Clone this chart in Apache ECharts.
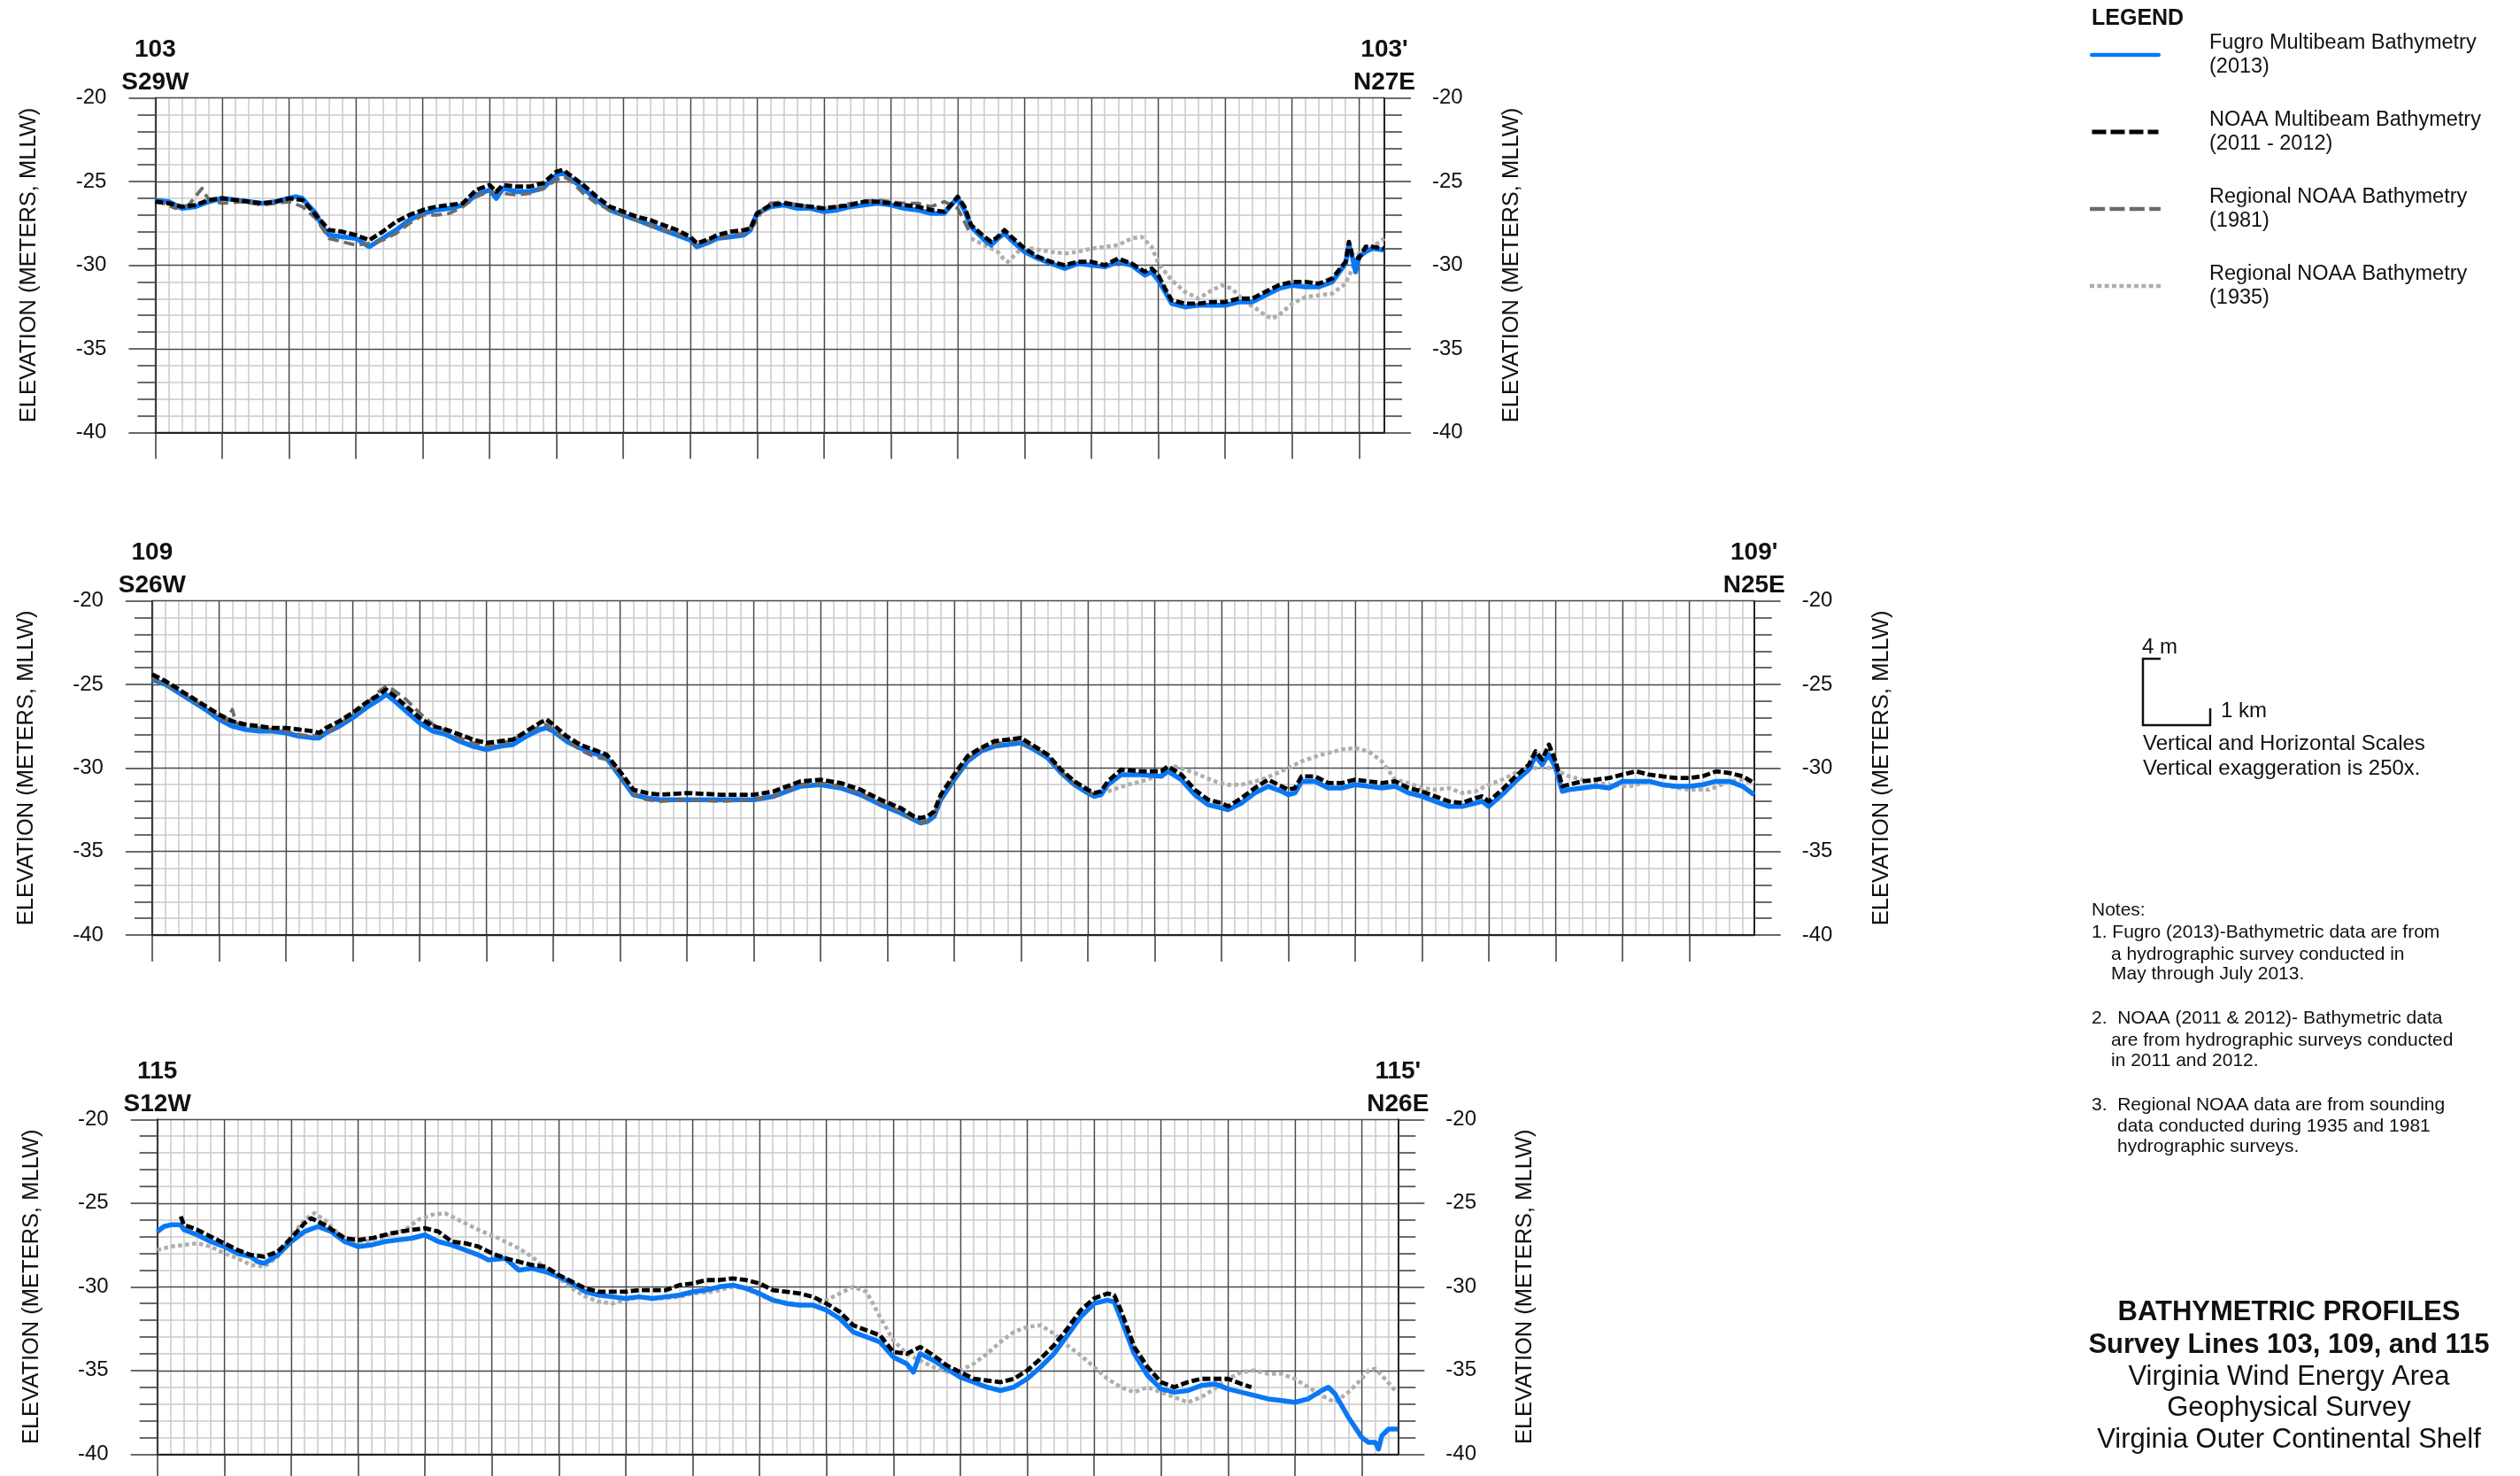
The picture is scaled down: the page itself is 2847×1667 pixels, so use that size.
<!DOCTYPE html>
<html><head><meta charset="utf-8">
<script src="https://cdn.jsdelivr.net/npm/echarts@6/dist/echarts.min.js"></script>
<style>html,body{margin:0;padding:0;background:#fff}#c{width:2847px;height:1667px}</style>
</head><body><div id="c"></div><script>
// ---------------- DATA ----------------
const seriesNames = [
  'Fugro Multibeam Bathymetry (2013)',
  'NOAA Multibeam Bathymetry (2011 - 2012)',
  'Regional NOAA Bathymetry (1981)',
  'Regional NOAA Bathymetry (1935)'
];
const profileIds = ['103', '109', '115'];
const startLabels = ['S29W', 'S26W', 'S12W'];
const endLabels = ['N27E', 'N25E', 'N26E'];
const profileLengthKm = [18.38, 23.97, 18.54];
const elevMin = -40, elevMax = -20, elevMajor = 5;

// Survey line 103 : [distance km, elevation m]
const fugro103 = [[0,-26.1],[0.2,-26.2],[0.4,-26.6],[0.6,-26.5],[0.8,-26.2],[1.0,-26.0],[1.2,-26.1],[1.4,-26.2],[1.6,-26.3],[1.8,-26.2],[2.0,-26.0],[2.1,-25.9],[2.2,-26.0],[2.4,-26.9],[2.5,-27.7],[2.6,-28.2],[2.8,-28.3],[3.0,-28.4],[3.2,-28.9],[3.4,-28.4],[3.6,-27.9],[3.8,-27.3],[4.0,-26.9],[4.2,-26.7],[4.4,-26.6],[4.6,-26.4],[4.8,-25.8],[5.0,-25.5],[5.1,-26.0],[5.2,-25.4],[5.4,-25.6],[5.6,-25.6],[5.8,-25.4],[6.0,-24.6],[6.1,-24.5],[6.2,-24.8],[6.4,-25.4],[6.6,-26.1],[6.8,-26.7],[7.0,-27.0],[7.2,-27.3],[7.4,-27.6],[7.6,-27.9],[7.8,-28.2],[8.0,-28.5],[8.1,-28.9],[8.3,-28.6],[8.4,-28.4],[8.6,-28.3],[8.8,-28.2],[8.9,-27.9],[9.0,-26.9],[9.2,-26.5],[9.4,-26.4],[9.6,-26.6],[9.8,-26.6],[10.0,-26.8],[10.2,-26.7],[10.4,-26.5],[10.6,-26.4],[10.8,-26.3],[11.0,-26.4],[11.2,-26.6],[11.4,-26.7],[11.6,-26.9],[11.8,-26.9],[11.9,-26.4],[12.0,-26.0],[12.1,-26.7],[12.2,-27.7],[12.4,-28.5],[12.5,-28.8],[12.6,-28.4],[12.7,-28.1],[12.8,-28.5],[13.0,-29.2],[13.2,-29.6],[13.4,-29.9],[13.6,-30.2],[13.8,-29.9],[14.0,-30.0],[14.2,-30.1],[14.4,-29.8],[14.6,-30.0],[14.8,-30.6],[14.9,-30.4],[15.0,-30.9],[15.1,-31.6],[15.2,-32.3],[15.4,-32.5],[15.6,-32.4],[15.8,-32.4],[16.0,-32.4],[16.2,-32.2],[16.4,-32.2],[16.6,-31.8],[16.8,-31.4],[17.0,-31.2],[17.2,-31.3],[17.4,-31.3],[17.6,-31.0],[17.8,-29.9],[17.85,-28.8],[17.9,-29.5],[17.95,-30.4],[18.0,-29.5],[18.1,-29.2],[18.2,-29.0],[18.38,-29.1]];
const noaa103 = [[0,-26.2],[0.2,-26.3],[0.4,-26.5],[0.6,-26.4],[0.8,-26.1],[1.0,-26.0],[1.2,-26.1],[1.4,-26.2],[1.6,-26.3],[1.8,-26.2],[2.0,-26.0],[2.2,-26.1],[2.4,-27.0],[2.6,-27.9],[2.8,-28.0],[3.0,-28.2],[3.2,-28.5],[3.4,-28.0],[3.6,-27.4],[3.8,-27.0],[4.0,-26.7],[4.2,-26.5],[4.4,-26.4],[4.6,-26.3],[4.8,-25.5],[5.0,-25.2],[5.1,-25.6],[5.2,-25.2],[5.4,-25.3],[5.6,-25.3],[5.8,-25.1],[6.0,-24.4],[6.1,-24.3],[6.2,-24.6],[6.4,-25.2],[6.6,-25.9],[6.8,-26.5],[7.0,-26.8],[7.2,-27.1],[7.4,-27.3],[7.6,-27.6],[7.8,-27.9],[8.0,-28.3],[8.1,-28.7],[8.3,-28.4],[8.4,-28.2],[8.6,-28.0],[8.8,-27.9],[8.9,-27.8],[9.0,-26.9],[9.2,-26.4],[9.4,-26.3],[9.6,-26.4],[9.8,-26.5],[10.0,-26.6],[10.2,-26.5],[10.4,-26.4],[10.6,-26.2],[10.8,-26.2],[11.0,-26.3],[11.2,-26.4],[11.4,-26.5],[11.6,-26.7],[11.8,-26.8],[11.9,-26.4],[12.0,-25.9],[12.1,-26.5],[12.2,-27.6],[12.4,-28.3],[12.5,-28.6],[12.6,-28.3],[12.7,-27.9],[12.8,-28.3],[13.0,-29.0],[13.2,-29.5],[13.4,-29.8],[13.6,-30.0],[13.8,-29.8],[14.0,-29.8],[14.2,-30.0],[14.4,-29.6],[14.6,-29.9],[14.8,-30.4],[14.9,-30.2],[15.0,-30.6],[15.1,-31.4],[15.2,-32.1],[15.4,-32.3],[15.6,-32.3],[15.8,-32.2],[16.0,-32.2],[16.2,-32.0],[16.4,-32.0],[16.6,-31.6],[16.8,-31.2],[17.0,-31.0],[17.2,-31.0],[17.4,-31.1],[17.6,-30.8],[17.8,-29.8],[17.85,-28.6],[17.9,-29.4],[18.0,-29.6],[18.1,-28.9],[18.2,-28.9],[18.38,-29.0]];
const reg1981_103 = [[0,-26.1],[0.3,-26.6],[0.5,-26.4],[0.7,-25.4],[0.8,-26.1],[1.0,-26.3],[1.3,-26.2],[1.6,-26.4],[2.0,-26.2],[2.2,-26.5],[2.4,-27.2],[2.6,-28.4],[2.8,-28.6],[3.0,-28.8],[3.2,-28.7],[3.4,-28.5],[3.6,-28.1],[3.8,-27.5],[4.0,-27.0],[4.2,-27.0],[4.4,-26.9],[4.6,-26.5],[4.8,-25.9],[5.0,-25.6],[5.2,-25.7],[5.4,-25.8],[5.6,-25.7],[5.8,-25.4],[6.0,-24.9],[6.1,-24.7],[6.2,-24.9],[6.4,-25.7],[6.6,-26.3],[6.8,-26.7],[7.0,-27.0],[7.2,-27.3],[7.4,-27.6],[7.6,-27.9],[7.8,-28.1],[8.0,-28.4],[8.1,-28.8],[8.3,-28.5],[8.5,-28.3],[8.8,-28.1],[8.95,-27.6],[9.05,-26.9],[9.2,-26.3],[9.4,-26.2],[9.6,-26.4],[9.8,-26.5],[10.0,-26.6],[10.2,-26.5],[10.4,-26.3],[10.6,-26.2],[10.8,-26.1],[11.0,-26.2],[11.2,-26.3],[11.4,-26.3],[11.6,-26.5],[11.8,-26.2],[12.0,-26.6],[12.1,-27.4],[12.2,-28.2]];
const reg1935_103 = [[12.2,-28.4],[12.4,-28.8],[12.6,-29.2],[12.7,-29.7],[12.75,-29.8],[12.9,-29.2],[13.1,-29.0],[13.4,-29.2],[13.6,-29.3],[13.8,-29.2],[14.0,-29.0],[14.2,-28.9],[14.4,-28.8],[14.6,-28.4],[14.75,-28.3],[14.9,-28.9],[15.0,-29.9],[15.2,-30.9],[15.4,-31.6],[15.6,-32.0],[15.8,-31.5],[15.95,-31.2],[16.1,-31.4],[16.3,-32.2],[16.5,-32.7],[16.6,-33.0],[16.7,-33.2],[16.8,-33.0],[17.0,-32.3],[17.2,-31.9],[17.4,-31.8],[17.6,-31.7],[17.8,-31.1],[18.0,-29.3],[18.2,-28.9],[18.38,-28.4]];

// Survey line 109
const fugro109 = [[0,-24.7],[0.2,-25.0],[0.4,-25.5],[0.6,-26.0],[0.8,-26.5],[1.0,-27.1],[1.2,-27.5],[1.4,-27.7],[1.6,-27.8],[1.8,-27.8],[2.0,-27.9],[2.2,-28.1],[2.4,-28.2],[2.5,-28.2],[2.6,-27.9],[2.8,-27.5],[3.0,-27.0],[3.2,-26.4],[3.4,-25.9],[3.5,-25.6],[3.6,-25.9],[3.8,-26.6],[4.0,-27.3],[4.2,-27.8],[4.4,-28.0],[4.6,-28.4],[4.8,-28.7],[5.0,-28.9],[5.2,-28.7],[5.4,-28.6],[5.6,-28.1],[5.8,-27.7],[5.9,-27.6],[6.0,-27.8],[6.2,-28.4],[6.4,-28.8],[6.6,-29.1],[6.8,-29.4],[7.0,-30.5],[7.2,-31.6],[7.4,-31.8],[7.6,-31.9],[8.0,-31.9],[8.5,-31.9],[9.0,-31.9],[9.3,-31.7],[9.5,-31.4],[9.7,-31.1],[10.0,-31.0],[10.3,-31.2],[10.6,-31.6],[10.9,-32.2],[11.2,-32.7],[11.4,-33.1],[11.5,-33.3],[11.6,-33.2],[11.7,-32.9],[11.8,-31.9],[12.0,-30.7],[12.2,-29.6],[12.4,-29.0],[12.6,-28.7],[12.8,-28.6],[13.0,-28.5],[13.2,-28.9],[13.4,-29.4],[13.6,-30.3],[13.8,-31.0],[14.0,-31.5],[14.1,-31.7],[14.2,-31.6],[14.3,-31.0],[14.5,-30.4],[14.8,-30.4],[15.1,-30.5],[15.2,-30.2],[15.4,-30.7],[15.6,-31.6],[15.8,-32.2],[16.0,-32.4],[16.1,-32.5],[16.3,-32.1],[16.5,-31.5],[16.7,-31.1],[16.9,-31.4],[17.0,-31.6],[17.1,-31.5],[17.2,-30.8],[17.4,-30.8],[17.6,-31.2],[17.8,-31.2],[18.0,-31.0],[18.2,-31.1],[18.4,-31.2],[18.6,-31.1],[18.8,-31.5],[19.0,-31.7],[19.2,-32.0],[19.4,-32.3],[19.6,-32.3],[19.8,-32.1],[19.9,-32.0],[20.0,-32.3],[20.2,-31.6],[20.4,-30.8],[20.6,-30.1],[20.7,-29.3],[20.8,-29.8],[20.9,-29.2],[21.0,-30.0],[21.1,-31.4],[21.2,-31.3],[21.4,-31.2],[21.6,-31.1],[21.8,-31.2],[22.0,-30.8],[22.2,-30.8],[22.4,-30.8],[22.6,-31.0],[22.8,-31.1],[23.0,-31.1],[23.2,-31.0],[23.4,-30.8],[23.6,-30.8],[23.8,-31.1],[23.97,-31.6]];
const noaa109 = [[0,-24.4],[0.2,-24.8],[0.4,-25.3],[0.6,-25.8],[0.8,-26.3],[1.0,-26.8],[1.2,-27.2],[1.4,-27.4],[1.6,-27.5],[1.8,-27.6],[2.0,-27.6],[2.2,-27.7],[2.4,-27.8],[2.5,-27.9],[2.6,-27.6],[2.8,-27.2],[3.0,-26.7],[3.2,-26.1],[3.4,-25.6],[3.5,-25.3],[3.6,-25.6],[3.8,-26.3],[4.0,-27.0],[4.2,-27.5],[4.4,-27.7],[4.6,-28.0],[4.8,-28.3],[5.0,-28.5],[5.2,-28.4],[5.4,-28.3],[5.6,-27.8],[5.8,-27.3],[5.9,-27.1],[6.0,-27.4],[6.2,-28.1],[6.4,-28.6],[6.6,-28.9],[6.8,-29.2],[7.0,-30.2],[7.2,-31.3],[7.4,-31.5],[7.6,-31.6],[8.0,-31.5],[8.5,-31.6],[9.0,-31.6],[9.3,-31.4],[9.5,-31.1],[9.7,-30.8],[10.0,-30.7],[10.3,-30.9],[10.6,-31.3],[10.9,-31.9],[11.2,-32.4],[11.4,-32.9],[11.5,-33.0],[11.6,-32.9],[11.7,-32.6],[11.8,-31.6],[12.0,-30.4],[12.2,-29.3],[12.4,-28.8],[12.6,-28.4],[12.8,-28.3],[13.0,-28.2],[13.2,-28.7],[13.4,-29.2],[13.6,-30.1],[13.8,-30.8],[14.0,-31.3],[14.1,-31.5],[14.2,-31.4],[14.3,-30.8],[14.5,-30.1],[14.8,-30.2],[15.1,-30.2],[15.2,-29.9],[15.4,-30.4],[15.6,-31.3],[15.8,-31.9],[16.0,-32.1],[16.1,-32.3],[16.3,-31.8],[16.5,-31.2],[16.7,-30.7],[16.9,-31.1],[17.0,-31.3],[17.1,-31.2],[17.2,-30.5],[17.4,-30.5],[17.6,-30.9],[17.8,-30.9],[18.0,-30.7],[18.2,-30.8],[18.4,-30.9],[18.6,-30.8],[18.8,-31.2],[19.0,-31.4],[19.2,-31.7],[19.4,-32.0],[19.6,-32.1],[19.8,-31.8],[19.9,-31.7],[20.0,-32.0],[20.2,-31.3],[20.4,-30.5],[20.6,-29.8],[20.7,-29.0],[20.8,-29.5],[20.9,-28.6],[21.0,-29.6],[21.1,-31.1],[21.2,-31.0],[21.4,-30.8],[21.6,-30.7],[21.8,-30.6],[22.0,-30.4],[22.2,-30.2],[22.4,-30.4],[22.6,-30.5],[22.8,-30.6],[23.0,-30.6],[23.2,-30.5],[23.4,-30.2],[23.6,-30.3],[23.8,-30.5],[23.97,-30.9]];
const reg1981_109 = [[0,-24.6],[0.2,-25.0],[0.4,-25.4],[0.6,-25.9],[0.8,-26.4],[1.0,-26.9],[1.1,-27.2],[1.2,-26.5],[1.25,-27.3],[1.4,-27.5],[1.6,-27.6],[1.8,-27.7],[2.0,-27.8],[2.2,-28.0],[2.4,-28.1],[2.6,-27.9],[2.8,-27.4],[3.0,-26.8],[3.2,-26.2],[3.4,-25.4],[3.5,-25.1],[3.6,-25.3],[3.8,-25.9],[4.0,-26.7],[4.2,-27.4],[4.4,-27.8],[4.6,-28.2],[4.8,-28.5],[5.0,-28.7],[5.2,-28.6],[5.4,-28.3],[5.6,-27.9],[5.8,-27.5],[5.9,-27.4],[6.0,-27.7],[6.2,-28.3],[6.4,-28.9],[6.6,-29.3],[6.8,-29.5],[7.0,-30.4],[7.2,-31.5],[7.4,-31.9],[7.6,-32.0],[8.0,-31.9],[8.5,-32.0],[9.0,-31.9],[9.3,-31.7],[9.5,-31.3],[9.7,-31.0],[10.0,-30.9],[10.3,-31.1],[10.6,-31.5],[10.9,-32.1],[11.2,-32.6],[11.4,-33.1],[11.5,-33.3],[11.6,-33.2],[11.7,-32.8],[11.8,-31.8],[12.0,-30.6],[12.2,-29.5],[12.4,-28.9],[12.6,-28.6],[12.8,-28.4],[13.0,-28.4],[13.2,-28.8],[13.4,-29.3],[13.6,-30.2],[13.8,-30.9],[14.0,-31.4],[14.1,-31.6]];
const reg1935_109 = [[14.3,-31.4],[14.6,-31.0],[14.9,-30.7],[15.2,-30.1],[15.3,-29.9],[15.6,-30.3],[15.9,-30.8],[16.1,-31.0],[16.3,-31.0],[16.6,-30.7],[16.9,-30.2],[17.2,-29.6],[17.5,-29.2],[17.8,-28.9],[18.0,-28.8],[18.2,-29.0],[18.4,-29.6],[18.6,-30.7],[18.8,-30.9],[19.0,-31.2],[19.2,-31.3],[19.4,-31.2],[19.6,-31.5],[19.8,-31.4],[20.0,-31.0],[20.2,-30.7],[20.4,-30.3],[20.6,-30.1],[20.8,-29.9],[21.0,-30.1],[21.2,-30.5],[21.5,-30.8],[21.8,-31.0],[22.1,-31.1],[22.4,-30.8],[22.7,-31.1],[23.0,-31.3],[23.3,-31.3],[23.6,-30.8],[23.8,-30.7],[23.97,-30.9]];

// Survey line 115
const fugro115 = [[0,-26.7],[0.1,-26.4],[0.2,-26.3],[0.35,-26.3],[0.4,-26.6],[0.6,-26.9],[0.8,-27.3],[1.0,-27.6],[1.2,-28.0],[1.4,-28.2],[1.5,-28.5],[1.6,-28.6],[1.8,-28.1],[2.0,-27.3],[2.2,-26.7],[2.4,-26.4],[2.6,-26.7],[2.8,-27.3],[3.0,-27.6],[3.2,-27.5],[3.4,-27.3],[3.6,-27.2],[3.8,-27.1],[4.0,-26.9],[4.2,-27.3],[4.4,-27.5],[4.6,-27.8],[4.8,-28.1],[4.95,-28.4],[5.2,-28.3],[5.4,-29.0],[5.6,-28.9],[5.8,-29.1],[6.0,-29.4],[6.2,-29.8],[6.4,-30.3],[6.6,-30.5],[6.8,-30.6],[7.0,-30.7],[7.2,-30.6],[7.4,-30.7],[7.6,-30.6],[7.8,-30.5],[8.0,-30.3],[8.2,-30.2],[8.4,-30.0],[8.6,-29.9],[8.8,-30.1],[9.0,-30.4],[9.2,-30.8],[9.4,-31.0],[9.6,-31.1],[9.8,-31.1],[10.0,-31.4],[10.2,-31.9],[10.4,-32.7],[10.6,-33.0],[10.8,-33.3],[11.0,-34.2],[11.2,-34.6],[11.3,-35.1],[11.4,-34.0],[11.6,-34.4],[11.8,-34.9],[12.0,-35.4],[12.2,-35.7],[12.4,-36.0],[12.6,-36.2],[12.8,-36.0],[13.0,-35.5],[13.2,-34.8],[13.4,-34.0],[13.6,-32.9],[13.8,-31.8],[14.0,-31.0],[14.2,-30.8],[14.3,-30.9],[14.4,-31.9],[14.6,-34.0],[14.8,-35.3],[15.0,-36.1],[15.2,-36.3],[15.4,-36.2],[15.6,-35.9],[15.8,-35.8],[16.0,-36.1],[16.2,-36.3],[16.4,-36.5],[16.6,-36.7],[16.8,-36.8],[17.0,-36.9],[17.2,-36.7],[17.4,-36.2],[17.5,-36.0],[17.6,-36.4],[17.8,-37.8],[18.0,-39.0],[18.1,-39.3],[18.2,-39.3],[18.25,-39.7],[18.3,-38.9],[18.4,-38.5],[18.54,-38.5]];
const noaa115 = [[0.35,-25.8],[0.4,-26.3],[0.6,-26.6],[0.8,-27.0],[1.0,-27.4],[1.2,-27.8],[1.4,-28.1],[1.6,-28.2],[1.8,-27.9],[2.0,-27.1],[2.2,-26.2],[2.3,-25.9],[2.5,-26.3],[2.8,-27.1],[3.0,-27.2],[3.2,-27.1],[3.5,-26.8],[3.8,-26.6],[4.0,-26.5],[4.2,-26.7],[4.4,-27.3],[4.6,-27.4],[4.8,-27.6],[5.0,-28.0],[5.2,-28.3],[5.4,-28.5],[5.6,-28.7],[5.8,-28.8],[6.0,-29.3],[6.2,-29.7],[6.4,-30.1],[6.6,-30.3],[6.8,-30.3],[7.0,-30.3],[7.2,-30.2],[7.4,-30.2],[7.6,-30.2],[7.8,-29.9],[8.0,-29.8],[8.2,-29.6],[8.4,-29.6],[8.6,-29.5],[8.8,-29.6],[9.0,-29.8],[9.2,-30.2],[9.4,-30.3],[9.6,-30.4],[9.8,-30.6],[10.0,-31.0],[10.2,-31.5],[10.4,-32.3],[10.6,-32.6],[10.8,-32.9],[11.0,-33.9],[11.2,-34.0],[11.4,-33.6],[11.6,-34.1],[11.8,-34.7],[12.0,-35.1],[12.2,-35.5],[12.4,-35.6],[12.6,-35.7],[12.8,-35.5],[13.0,-35.0],[13.2,-34.3],[13.4,-33.5],[13.6,-32.5],[13.8,-31.4],[14.0,-30.7],[14.2,-30.4],[14.3,-30.5],[14.4,-31.4],[14.5,-32.5],[14.6,-33.6],[14.8,-34.8],[15.0,-35.7],[15.2,-36.0],[15.4,-35.7],[15.6,-35.5],[15.8,-35.5],[16.0,-35.5],[16.2,-35.8],[16.35,-36.0]];
const reg1935_115 = [[0,-27.8],[0.2,-27.6],[0.4,-27.5],[0.6,-27.4],[0.8,-27.6],[1.0,-28.0],[1.2,-28.3],[1.4,-28.7],[1.6,-28.8],[1.8,-28.2],[2.0,-27.0],[2.2,-26.0],[2.35,-25.6],[2.5,-26.0],[2.7,-26.8],[2.9,-27.3],[3.1,-27.3],[3.4,-27.0],[3.7,-26.6],[3.9,-26.0],[4.1,-25.7],[4.3,-25.6],[4.5,-26.0],[4.8,-26.6],[5.1,-27.1],[5.4,-27.7],[5.6,-28.2],[5.8,-28.9],[6.0,-29.5],[6.2,-30.1],[6.4,-30.6],[6.6,-30.9],[6.8,-31.0],[7.0,-30.8],[7.2,-30.6],[7.5,-30.7],[7.8,-30.6],[8.0,-30.4],[8.3,-30.3],[8.6,-30.0],[8.8,-30.1],[9.0,-30.5],[9.2,-30.8],[9.5,-31.0],[9.8,-31.1],[10.0,-30.8],[10.2,-30.4],[10.4,-30.0],[10.6,-30.3],[10.8,-31.8],[11.0,-33.2],[11.2,-34.0],[11.4,-34.4],[11.6,-34.8],[11.8,-35.1],[12.0,-35.0],[12.2,-34.6],[12.4,-34.0],[12.6,-33.3],[12.8,-32.7],[13.0,-32.4],[13.2,-32.3],[13.4,-32.8],[13.6,-33.5],[13.8,-34.1],[14.0,-34.8],[14.2,-35.5],[14.4,-36.0],[14.6,-36.3],[14.8,-36.0],[15.0,-36.3],[15.2,-36.6],[15.4,-36.9],[15.6,-36.6],[15.8,-36.1],[16.0,-35.5],[16.2,-35.1],[16.4,-35.0],[16.6,-35.2],[16.8,-35.2],[17.0,-35.5],[17.2,-36.0],[17.4,-36.5],[17.6,-36.9],[17.8,-36.3],[18.0,-35.5],[18.1,-35.0],[18.2,-34.9],[18.3,-35.3],[18.5,-36.2]];

const profileData = [
  {fugro: fugro103, noaa: noaa103, r1981: reg1981_103, r1935: reg1935_103},
  {fugro: fugro109, noaa: noaa109, r1981: reg1981_109, r1935: reg1935_109},
  {fugro: fugro115, noaa: noaa115, r1981: [], r1935: reg1935_115}
];

// ---------------- LAYOUT / STYLE ----------------
const FONT = '"Liberation Sans", Arial, Helvetica, sans-serif';
const gridBoxes = [
  {left: 175.4, top: 110.7, width: 1388.6, height: 377.6},
  {left: 171.9, top: 678.7, width: 1809.8, height: 377.3},
  {left: 177.7, top: 1264.3, width: 1401.6, height: 378}
];
const MAJOR = '#4a4a4a', MINOR = '#cacaca', TICK = '#3a3a3a';
const styles = {
  fugro: {color: '#0a78f5', width: 5.5, type: 'solid', z: 4},
  noaa:  {color: '#000000', width: 4.8, type: [9, 3.5], z: 6},
  r1981: {color: '#6b6b6b', width: 3.8, type: [12, 6], z: 5},
  r1935: {color: '#aeaeae', width: 4.5, type: [4.5, 3.5], z: 3}
};
const nameKey = {fugro: 0, noaa: 1, r1981: 2, r1935: 3};

const grids = [], xAxes = [], yAxes = [], series = [], graphics = [];

function txt(x, y, text, size, bold, align) {
  return {type: 'text', x: x, y: y, silent: true, z: 10,
    style: {text: text, fontSize: size, fontFamily: FONT, fontWeight: bold ? 'bold' : 'normal',
      fill: '#111', textAlign: align || 'left', align: align || 'left',
      textVerticalAlign: 'middle', verticalAlign: 'middle'}};
}

gridBoxes.forEach((b, g) => {
  const len = profileLengthKm[g];
  grids.push({left: b.left, top: b.top, width: b.width, height: b.height, containLabel: false, outerBoundsMode: 'none'});
  const majorTicks = [];
  for (let k = 0; k <= Math.floor(len); k++) majorTicks.push(k);
  // major km axis
  xAxes.push({gridIndex: g, type: 'value', min: 0, max: len, interval: 1, position: 'bottom', z: 2,
    axisLine: {show: true, onZero: false, lineStyle: {color: '#222', width: 2}},
    axisTick: {show: true, inside: false, length: 30, customValues: majorTicks, lineStyle: {color: TICK, width: 1.5}},
    axisLabel: {show: false},
    splitLine: {show: true, lineStyle: {color: MAJOR, width: 1.3}}
  });
  // minor 200 m axis
  xAxes.push({gridIndex: g, type: 'value', min: 0, max: len, interval: 0.2, position: 'top', z: 0,
    axisLine: {show: false, onZero: false}, axisTick: {show: false}, axisLabel: {show: false},
    splitLine: {show: true, lineStyle: {color: MINOR, width: 1.5}}
  });
  const yCommon = {gridIndex: g, type: 'value', min: elevMin, max: elevMax, interval: elevMajor,
    axisLine: {show: true, onZero: false, lineStyle: {color: '#222', width: 2}},
    axisTick: {show: true, inside: false, length: 30, lineStyle: {color: TICK, width: 1.5}},
    minorTick: {show: true, splitNumber: 5, length: 20, lineStyle: {color: TICK, width: 1.5}},
    name: 'ELEVATION (METERS, MLLW)', nameLocation: 'middle', nameRotate: 90,
    nameTextStyle: {fontFamily: FONT, fontSize: 25.5, color: '#111'}
  };
  yAxes.push(Object.assign({}, yCommon, {position: 'left', z: 1, nameGap: 129,
    axisLabel: {show: true, margin: 55, fontFamily: FONT, fontSize: 24, color: '#111'},
    splitLine: {show: true, lineStyle: {color: MAJOR, width: 1.3}},
    minorSplitLine: {show: true, lineStyle: {color: MINOR, width: 1.5}}
  }));
  yAxes.push(Object.assign({}, yCommon, {position: 'right', z: 1, nameGap: 131,
    axisLabel: {show: true, margin: 54, fontFamily: FONT, fontSize: 24, color: '#111'},
    splitLine: {show: false}, minorSplitLine: {show: false}
  }));
  ['r1935', 'fugro', 'r1981', 'noaa'].forEach(key => {
    const d = profileData[g][key];
    if (!d || !d.length) return;
    const s = styles[key];
    series.push({type: 'line', name: seriesNames[nameKey[key]], xAxisIndex: 2 * g, yAxisIndex: 2 * g,
      data: d, symbol: 'none', showSymbol: false, smooth: false, z: s.z, color: s.color,
      lineStyle: {color: s.color, width: s.width, type: s.type, join: 'round'},
      emphasis: {disabled: true}, animation: false});
  });
  // profile end labels
  const right = b.left + b.width;
  graphics.push(txt(b.left, b.top - 54, profileIds[g], 28, true, 'center'));
  graphics.push(txt(b.left, b.top - 17.5, startLabels[g], 28, true, 'center'));
  graphics.push(txt(right, b.top - 54, profileIds[g] + "'", 28, true, 'center'));
  graphics.push(txt(right, b.top - 17.5, endLabels[g], 28, true, 'center'));
});

// legend header
graphics.push(txt(2363, 21, 'LEGEND', 25, true));
// scale bar
graphics.push({type: 'polyline', silent: true, shape: {points: [[2441, 744], [2421, 744], [2421, 819], [2497, 819], [2497, 800]]},
  style: {stroke: '#111', lineWidth: 2.5, fill: null}});
graphics.push(txt(2420, 731, '4 m', 24));
graphics.push(txt(2509, 803, '1 km', 24));
graphics.push(txt(2421, 840.5, 'Vertical and Horizontal Scales', 24));
graphics.push(txt(2421, 868, 'Vertical exaggeration is 250x.', 24));
// notes
const notes = [
  [2363, 1028, 'Notes:'],
  [2363, 1053, '1. Fugro (2013)-Bathymetric data are from'],
  [2385, 1078, 'a hydrographic survey conducted in'],
  [2385, 1100.5, 'May through July 2013.'],
  [2363, 1150, '2.  NOAA (2011 & 2012)- Bathymetric data'],
  [2385, 1175, 'are from hydrographic surveys conducted'],
  [2385, 1198.5, 'in 2011 and 2012.'],
  [2363, 1248, '3.  Regional NOAA data are from sounding'],
  [2392, 1272.5, 'data conducted during 1935 and 1981'],
  [2392, 1295.5, 'hydrographic surveys.']
];
notes.forEach(n => graphics.push(txt(n[0], n[1], n[2], 21)));
// title block
graphics.push(txt(2586, 1482, 'BATHYMETRIC PROFILES', 31, true, 'center'));
graphics.push(txt(2586, 1519, 'Survey Lines 103, 109, and 115', 31, true, 'center'));
graphics.push(txt(2586, 1555, 'Virginia Wind Energy Area', 31, false, 'center'));
graphics.push(txt(2586, 1590, 'Geophysical Survey', 31, false, 'center'));
graphics.push(txt(2586, 1626, 'Virginia Outer Continental Shelf', 31, false, 'center'));

// legend icons (shapes only)
let dots = '';
for (let i = 0; i < 10; i++) dots += 'M' + (i * 7.5) + ',0h4.5v4h-4.5z';
const legendIcons = [
  'path://M2,0H78A2,2 0 0 1 78,4.5H2A2,2 0 0 1 2,0Z',
  'path://M0,0H16V5H0Z M21,0H37V5H21Z M42,0H58V5H42Z M63,0H75V5H63Z',
  'path://M0,0H16V4H0Z M21,0H37V4H21Z M42,0H58V4H42Z M63,0H75V4H63Z',
  'path://' + dots
];

const chart = echarts.init(document.getElementById('c'), null, {renderer: 'canvas'});
chart.setOption({
  backgroundColor: '#ffffff',
  animation: false,
  grid: grids,
  xAxis: xAxes,
  yAxis: yAxes,
  series: series,
  legend: {
    orient: 'vertical', left: 2361, top: 35, padding: 0,
    itemWidth: 80, itemHeight: 5, itemGap: 33, selectedMode: false,
    textStyle: {fontFamily: FONT, fontSize: 23.5, lineHeight: 27, color: '#111', padding: [0, 0, 0, 50]},
    formatter: n => n.replace(' (', '\n('),
    data: seriesNames.map((n, i) => ({name: n, icon: legendIcons[i]}))
  },
  graphic: graphics
});
</script></body></html>
